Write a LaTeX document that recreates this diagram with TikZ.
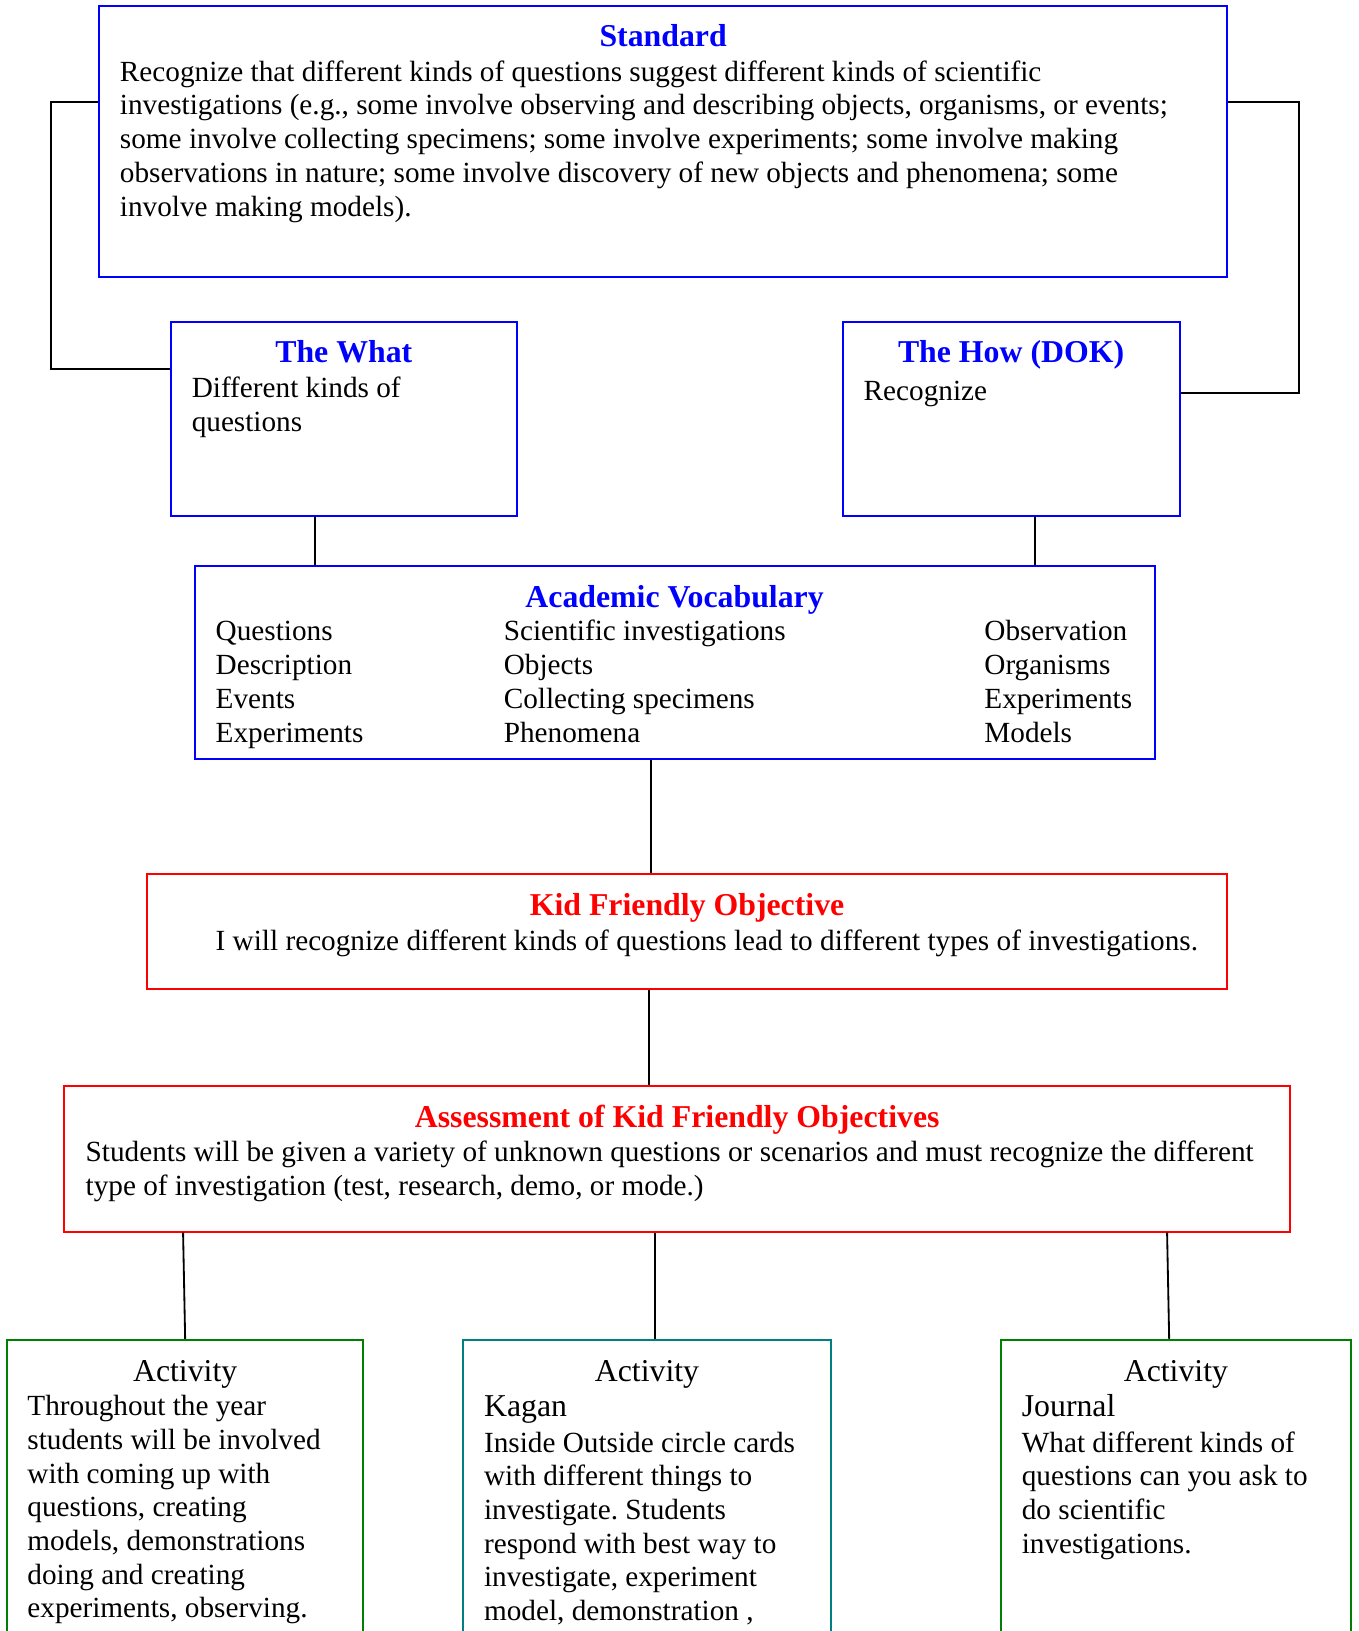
\documentclass[tikz,border=0pt]{standalone}
\usepackage{fontspec}
\setmainfont{Liberation Serif}
\usetikzlibrary{fit}
\definecolor{boxblue}{RGB}{0,0,255}
\definecolor{boxred}{RGB}{255,0,0}
\definecolor{boxgreen}{RGB}{0,128,0}
\definecolor{boxteal}{RGB}{0,128,128}
\frenchspacing
\begin{document}
\begin{tikzpicture}[x=0.02cm,y=-0.02cm,
  panel/.style={draw=#1, line width=1.1pt, inner sep=0pt},
  head/.style={font=\fontsize{17.4}{20}\selectfont\bfseries, anchor=base, inner sep=0pt, yshift=-1.1pt},
  subhead/.style={font=\fontsize{17.4}{20}\selectfont, anchor=base, inner sep=0pt, yshift=-1.1pt},
  lead/.style={font=\fontsize{17.4}{20}\selectfont, anchor=base west, inner sep=0pt, yshift=-1.1pt},
  txt/.style={font=\fontsize{16}{18.5}\selectfont, anchor=base west, inner sep=0pt, yshift=-1.1pt},
  conn/.style={draw=black, line width=1pt}]
\useasboundingbox (0,0) rectangle (1306,1568);

% ---------- boxes ----------
\node[panel=boxblue, fit={(95,6) (1180,266)}] (std) {};
\node[panel=boxblue, fit={(164,310) (497,496)}] (what) {};
\node[panel=boxblue, fit={(810,310) (1134,496)}] (how) {};
\node[panel=boxblue, fit={(187,544) (1110,730)}] (voc) {};
\node[panel=boxred, fit={(141,840) (1180,951)}] (kid) {};
\node[panel=boxred, fit={(62,1044) (1240,1184)}] (asm) {};
\node[panel=boxgreen, fit={(7,1288) (349,1620)}] (act1) {};
\node[panel=boxteal, fit={(445,1288) (799,1620)}] (act2) {};
\node[panel=boxgreen, fit={(962,1288) (1299,1620)}] (act3) {};

% ---------- connectors ----------
\draw[conn] (std.west |- 0,98) -- (49,98) -- (49,355) -- (what.west |- 0,355);
\draw[conn] (std.east |- 0,98) -- (1249,98) -- (1249,378) -- (how.east |- 0,378);
\draw[conn] (303,0 |- what.south) -- (303,0 |- voc.north);
\draw[conn] (995,0 |- how.south) -- (995,0 |- voc.north);
\draw[conn] (626,0 |- voc.south) -- (626,0 |- kid.north);
\draw[conn] (624,0 |- kid.south) -- (624,0 |- asm.north);
\draw[conn] (176,0 |- asm.south) -- (act1.north);
\draw[conn] (630,0 |- asm.south) -- (630,0 |- act2.north);
\draw[conn] (1122,0 |- asm.south) -- (1124,0 |- act3.north);

% ---------- Standard ----------
\node[head, text=boxblue] (stdt) at (std.center |- 0,43) {Standard};
\foreach \t [count=\i from 0] in {
  Recognize that different kinds of questions suggest different kinds of scientific,
  {investigations (e.g., some involve observing and describing objects, organisms, or events;},
  some involve collecting specimens; some involve experiments; some involve making,
  observations in nature; some involve discovery of new objects and phenomena; some,
  involve making models).}
  \node[txt] (std-\i) at (115,{76+32.5*\i}) {\t};

% ---------- The What / The How ----------
\node[head, text=boxblue] (whatt) at (what.center |- 0,347) {The What};
\node[txt] (what-0) at (184,380) {Different kinds of};
\node[txt] (what-1) at (184,413) {questions};
\node[head, text=boxblue] (howt) at (how.center |- 0,347) {The How (DOK)};
\node[txt] (how-0) at (830,383) {Recognize};

% ---------- Academic Vocabulary ----------
\node[head, text=boxblue] (voct) at (voc.center |- 0,582) {Academic Vocabulary};
\foreach \a/\b/\c [count=\i from 0] in {
  Questions/Scientific investigations/Observation,
  Description/Objects/Organisms,
  Events/Collecting specimens/Experiments,
  Experiments/Phenomena/Models} {
  \node[txt] (voca-\i) at (207,{614+32.6*\i}) {\a};
  \node[txt] (vocb-\i) at (484,{614+32.6*\i}) {\b};
  \node[txt] (vocc-\i) at (946,{614+32.6*\i}) {\c};
}

% ---------- Kid Friendly Objective ----------
\node[head, text=boxred] (kidt) at (kid.center |- 0,878) {Kid Friendly Objective};
\node[txt] (kid-0) at (207,912) {I will recognize different kinds of questions lead to different types of investigations.};

% ---------- Assessment ----------
\node[head, text=boxred] (asmt) at (asm.center |- 0,1082) {Assessment of Kid Friendly Objectives};
\node[txt] (asm-0) at (82,1115) {Students will be given a variety of unknown questions or scenarios and must recognize the different};
\node[txt] (asm-1) at (82,1147) {type of investigation (test, research, demo, or mode.)};

% ---------- Activities ----------
\node[subhead] (act1t) at (act1.center |- 0,1326) {Activity};
\foreach \t [count=\i from 0] in {
  Throughout the year, students will be involved, with coming up with,
  {questions, creating}, {models, demonstrations}, doing and creating,
  {experiments, observing.}}
  \node[txt] (act1-\i) at (26,{1359+32.4*\i}) {\t};

\node[subhead] (act2t) at (act2.center |- 0,1326) {Activity};
\node[lead] (act2h) at (465,1360) {Kagan};
\foreach \t [count=\i from 0] in {
  Inside Outside circle cards, with different things to,
  investigate. Students, respond with best way to,
  {investigate, experiment}, {model, demonstration ,}}
  \node[txt] (act2-\i) at (465,{1394+32.4*\i}) {\t};

\node[subhead] (act3t) at (act3.center |- 0,1326) {Activity};
\node[lead] (act3h) at (982,1360) {Journal};
\foreach \t [count=\i from 0] in {
  What different kinds of, questions can you ask to,
  do scientific, investigations.}
  \node[txt] (act3-\i) at (982,{1394+32.4*\i}) {\t};
\end{tikzpicture}
\end{document}
